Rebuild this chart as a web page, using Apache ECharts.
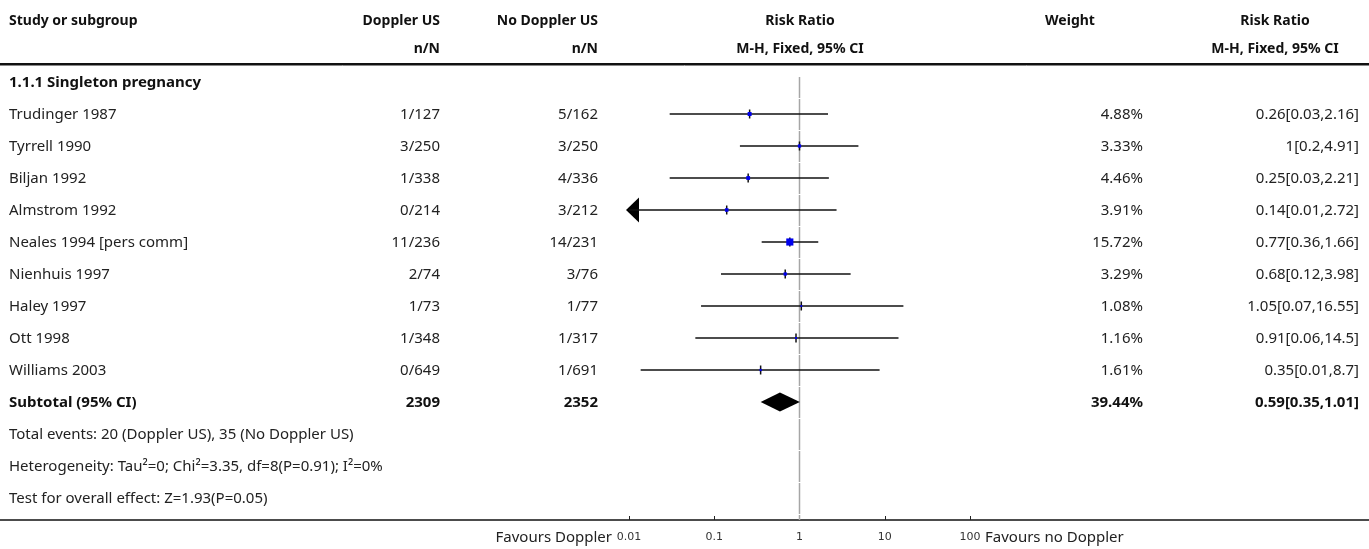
<!DOCTYPE html>
<html><head><meta charset="utf-8">
<script src="https://cdn.jsdelivr.net/npm/echarts@6/dist/echarts.min.js"></script>
<style>html,body{margin:0;padding:0;background:#fff}#c{width:1369px;height:549px}</style>
</head><body><div id="c"></div>
<script>
// ---------------- data ----------------
const subgroupTitle = '1.1.1 Singleton pregnancy';
const studies = ['Trudinger 1987','Tyrrell 1990','Biljan 1992','Almstrom 1992','Neales 1994 [pers comm]','Nienhuis 1997','Haley 1997','Ott 1998','Williams 2003'];
const dopplerEvents = ['1/127','3/250','1/338','0/214','11/236','2/74','1/73','1/348','0/649'];
const noDopplerEvents = ['5/162','3/250','4/336','3/212','14/231','3/76','1/77','1/317','1/691'];
const weights = [4.88,3.33,4.46,3.91,15.72,3.29,1.08,1.16,1.61];
const riskRatio = [0.26,1,0.25,0.14,0.77,0.68,1.05,0.91,0.35];
const ciLow = [0.03,0.2,0.03,0.0074,0.36,0.12,0.07,0.06,0.0137];
const ciHigh = [2.16,4.91,2.21,2.72,1.66,3.98,16.55,14.5,8.7];
const ciText = ['0.26[0.03,2.16]','1[0.2,4.91]','0.25[0.03,2.21]','0.14[0.01,2.72]','0.77[0.36,1.66]','0.68[0.12,3.98]','1.05[0.07,16.55]','0.91[0.06,14.5]','0.35[0.01,8.7]'];
const subtotalLabel = 'Subtotal (95% CI)';
const subtotalTotals = ['2309','2352'];
const subtotalWeight = '39.44%';
const subtotalRR = [0.59, 0.35, 1.01];
const subtotalText = '0.59[0.35,1.01]';
const footnotes = ['Total events: 20 (Doppler US), 35 (No Doppler US)','Heterogeneity: Tau\u00B2=0; Chi\u00B2=3.35, df=8(P=0.91); I\u00B2=0%','Test for overall effect: Z=1.93(P=0.05)'];
const axisTickValues = [0.01,0.1,1,10,100];
const headers1 = ['Study or subgroup','Doppler US','No Doppler US','Risk Ratio','Weight','Risk Ratio'];
const headers2 = ['','n/N','n/N','M-H, Fixed, 95% CI','','M-H, Fixed, 95% CI'];
const favoursLeft = 'Favours Doppler';
const favoursRight = 'Favours no Doppler';

// ---------------- layout ----------------
const FONT = 'Noto Sans';
const nRows = 1 + studies.length + 1 + footnotes.length; // 14
const chart = echarts.init(document.getElementById('c'), null, {renderer:'canvas'});

const ciData = studies.map((s,i)=>[riskRatio[i], i+1, ciLow[i], ciHigh[i], weights[i]]);
const refSegs = [];
for (let i=0;i<nRows;i++) refSegs.push([i===0 ? i-0.5+11/32 : i-0.5+1/32, i+0.5]);
refSegs.push([nRows-0.5+1/32, nRows-0.3125]);

chart.setOption({
  animation:false,
  grid:{left:629, width:341, top:66, height:454},
  xAxis:{type:'log', logBase:10, min:0.01, max:100, position:'bottom',
    axisLine:{show:false, onZero:false},
    axisTick:{show:true, inside:true, length:4, lineStyle:{color:'#222', width:1}},
    axisLabel:{margin:12, fontFamily:'DejaVu Sans', fontSize:11, color:'#333',
      formatter:v=>{let b=axisTickValues[0];axisTickValues.forEach(t=>{if(Math.abs(Math.log10(t)-Math.log10(v))<Math.abs(Math.log10(b)-Math.log10(v)))b=t;});return String(b);}},
    splitLine:{show:false}, minorTick:{show:false}},
  yAxis:{type:'value', inverse:true, min:-0.5, max:nRows-0.3125, show:false},
  series:[
    {type:'custom', data:refSegs, silent:true, z:1,
      renderItem:(p,api)=>{const a=api.coord([1,api.value(0)]);const b=api.coord([1,api.value(1)]);
        return {type:'line', shape:{x1:a[0],y1:a[1],x2:b[0],y2:b[1]}, style:{stroke:'#a6a6a6', lineWidth:1.5}};}},
    {type:'custom', data:ciData, z:3,
      renderItem:(p,api)=>{
        const est=api.value(0), row=api.value(1), lo=api.value(2), hi=api.value(3), w=api.value(4);
        const clipped = lo<0.01;
        const pl = api.coord([clipped?0.01:lo,row]);
        const ph = api.coord([hi,row]);
        const pe = api.coord([est,row]);
        const y = pe[1];
        const children=[];
        let x0 = pl[0];
        if (clipped){
          children.push({type:'polygon', shape:{points:[[x0-3,y],[x0+10,y-12.5],[x0+10,y+12.5]]}, style:{fill:'#000'}});
        }
        children.push({type:'line', shape:{x1:x0,y1:y,x2:ph[0],y2:y}, style:{stroke:'#111', lineWidth:1.5}});
        children.push({type:'line', shape:{x1:pe[0],y1:y-4.5,x2:pe[0],y2:y+4.5}, style:{stroke:'#111', lineWidth:1.5}});
        const s = 1.8*Math.sqrt(w);
        children.push({type:'rect', shape:{x:pe[0]-s/2,y:y-s/2,width:s,height:s}, style:{fill:'#0000ee'}});
        return {type:'group', children};
      }},
    {type:'custom', data:[[subtotalRR[0], studies.length+1, subtotalRR[1], subtotalRR[2]]], z:3,
      renderItem:(p,api)=>{
        const row=api.value(1);
        const pe=api.coord([api.value(0),row]), pl=api.coord([api.value(2),row]), ph=api.coord([api.value(3),row]);
        const y=pe[1], h=9.5;
        return {type:'polygon', shape:{points:[[pl[0],y],[pe[0],y-h],[ph[0],y],[pe[0],y+h]]}, style:{fill:'#000'}};
      }}
  ]
});

// ---------------- table text ----------------
const rowY = i => chart.convertToPixel({gridIndex:0},[1,i])[1];
const g = [];
function txt(x,y,str,align,bold,size){
  g.push({type:'text', x, y: y+1, silent:true, style:{text:str, x:0, y:0, textAlign:align, textVerticalAlign:'middle',
    fontFamily:FONT, fontSize:size||15, fontWeight:bold?'bold':'normal', fill:bold?'#111':'#222'}});
}
const colX = {study:9, dop:440, nodop:598, rr:800, wHead:1070, w:1143, ciHead:1275, ci:1359};
// headers
txt(colX.study,20,headers1[0],'left',true,14);
txt(colX.dop,20,headers1[1],'right',true,14);
txt(colX.nodop,20,headers1[2],'right',true,14);
txt(colX.rr,20,headers1[3],'center',true,14);
txt(colX.wHead,20,headers1[4],'center',true,14);
txt(colX.ciHead,20,headers1[5],'center',true,14);
txt(colX.dop,48,headers2[1],'right',true,14);
txt(colX.nodop,48,headers2[2],'right',true,14);
txt(colX.rr,48,headers2[3],'center',true,14);
txt(colX.ciHead,48,headers2[5],'center',true,14);
// subgroup
txt(colX.study,rowY(0),subgroupTitle,'left',true,15);
studies.forEach((s,i)=>{
  const y=rowY(i+1);
  txt(colX.study,y,s,'left',false);
  txt(colX.dop,y,dopplerEvents[i],'right',false);
  txt(colX.nodop,y,noDopplerEvents[i],'right',false);
  txt(colX.w,y,weights[i].toFixed(2)+'%','right',false);
  txt(colX.ci,y,ciText[i],'right',false);
});
const sy=rowY(studies.length+1);
txt(colX.study,sy,subtotalLabel,'left',true,15);
txt(colX.dop,sy,subtotalTotals[0],'right',true,15);
txt(colX.nodop,sy,subtotalTotals[1],'right',true,15);
txt(colX.w,sy,subtotalWeight,'right',true,15);
txt(colX.ci,sy,subtotalText,'right',true,15);
footnotes.forEach((f,k)=>txt(colX.study,rowY(studies.length+2+k),f,'left',false));
// favours
txt(612,537,favoursLeft,'right',false);
txt(985,537,favoursRight,'left',false);
// rules
g.push({type:'line', silent:true, shape:{x1:0,y1:64,x2:1369,y2:64}, style:{stroke:'#111', lineWidth:2}});
g.push({type:'line', silent:true, shape:{x1:0,y1:65.5,x2:1369,y2:65.5}, style:{stroke:'#888', lineWidth:1}});
g.push({type:'line', silent:true, shape:{x1:0,y1:520,x2:1369,y2:520}, style:{stroke:'#111', lineWidth:1.5}});
chart.setOption({graphic:g});
</script></body></html>
